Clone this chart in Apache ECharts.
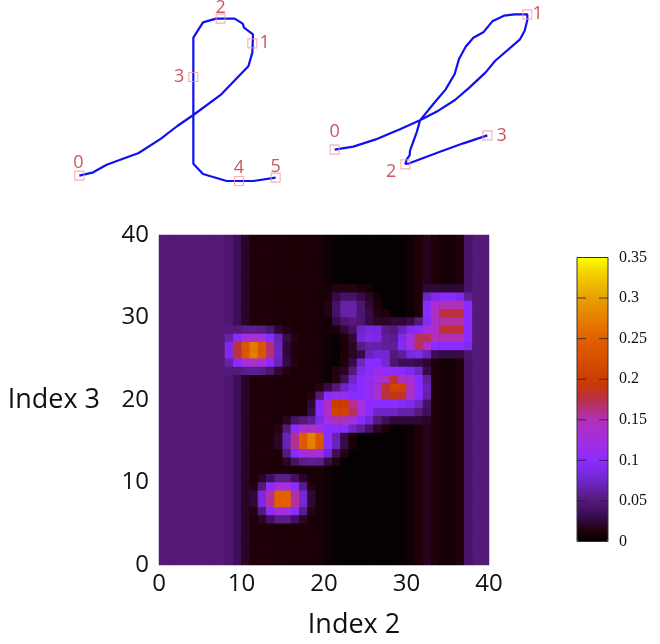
<!DOCTYPE html>
<html>
<head>
<meta charset="utf-8">
<script src="https://cdn.jsdelivr.net/npm/echarts@6/dist/echarts.min.js"></script>
<style>html,body{margin:0;padding:0;background:#fff}#c{width:660px;height:644px}</style>
</head>
<body>
<div id="c"></div>
<script>
// Pen traces
const traceA = [[58,527],[97,518],[140,494],[236,459],[303,416],[352,378],[400,345],[484,283],[565,199],[577,158],[579,103],[552,83],[548,71],[524,56],[468,56],[429,67],[400,113],[400,491],[429,522],[500,543],[580,543],[647,533]];
const traceB = [[44,449],[100,440],[165,419],[240,388],[300,361],[355,332],[405,300],[448,263],[497,217],[525,183],[600,118],[614,92],[622,60],[622,43],[585,43],[552,47],[517,64],[490,97],[460,113],[437,140],[417,177],[404,222],[377,268],[340,312],[300,361],[295,380],[290,397],[270,452],[269,466],[260,478],[256,492],[268,490],[360,455],[430,430],[502,406]];
const keysA = [[58,527],[577,130],[482,56],[400,231],[537,543],[647,533]];
const keysB = [[44,449],[622,43],[256,493],[502,406]];
const keyNamesA = ['0','1','2','3','4','5'];
const keyNamesB = ['0','1','2','3'];

// Heat map: value of each column where nothing else is present
const columnFloor = [.05,.05,.05,.05,.05,.05,.05,.05,.046,.036,.02,.012,.012,.012,.011,.011,.01,.01,.01,.009,.006,.003,.002,.002,.002,.002,.002,.002,.002,.003,.006,.012,.018,.012,.008,.008,.014,.042,.05,.05];
// Cells above the floor: [row from top, first column, values...]
const rowPatches = [
 [6,20,.008,.015,.015,.015,.012,.008],[6,32,.025,.025,.025,.025,.025,.042],
 [7,20,.012,.03,.04,.04,.03,.02,.008],[7,32,.075,.09,.1,.1,.09,.06],
 [8,20,.015,.04,.065,.065,.045,.025,.012],[8,32,.1,.135,.15,.15,.15,.1],
 [9,20,.015,.04,.065,.065,.045,.03,.015,.012],[9,32,.1,.145,.178,.178,.178,.1],
 [10,21,.03,.045,.05,.045,.03,.02,.02,.025,.025,.03,.05,.095,.14,.155,.155,.155,.1],
 [11,8,.05,.05,.055,.058,.055,.045,.025,.015],
 [11,20,.01,.012,.025,.04,.075,.085,.085,.055,.05,.07,.09,.1,.13,.14,.178,.178,.178,.1],
 [12,8,.065,.1,.125,.14,.125,.1,.07,.03,.015],
 [12,22,.012,.025,.08,.09,.085,.06,.055,.09,.12,.17,.17,.15,.15,.15,.15,.1],
 [13,8,.09,.178,.235,.27,.235,.165,.075,.025,.012],
 [13,22,.01,.02,.055,.065,.065,.06,.06,.095,.12,.17,.14,.1,.1,.1,.1,.09],
 [14,8,.09,.178,.235,.27,.235,.165,.075,.025,.012],
 [14,22,.012,.02,.03,.07,.08,.08,.05,.06,.085,.09,.07,.035,.03,.03,.03,.045],
 [15,8,.065,.1,.125,.14,.125,.1,.07,.03,.015],
 [15,22,.012,.03,.075,.1,.1,.08,.045,.035,.035,.03,.022],
 [16,8,.05,.05,.055,.058,.055,.045,.025,.015],
 [16,21,.015,.02,.05,.09,.1,.115,.105,.105,.1,.09,.075,.03],
 [17,21,.015,.035,.075,.1,.11,.125,.145,.18,.145,.13,.1,.06],
 [18,19,.015,.03,.05,.075,.09,.1,.11,.13,.18,.21,.21,.145,.1,.07],
 [19,18,.015,.05,.1,.11,.11,.1,.1,.11,.135,.175,.19,.18,.14,.1,.065],
 [20,18,.025,.1,.14,.2,.2,.16,.125,.1,.1,.1,.1,.095,.09,.075,.04],
 [21,18,.03,.1,.14,.21,.21,.17,.125,.1,.075,.075,.075,.065,.065,.05,.035],
 [22,15,.02,.04,.05,.06,.09,.125,.15,.15,.125,.1,.08,.05,.035,.025,.025,.025,.025,.02],
 [23,14,.015,.05,.1,.135,.14,.13,.1,.1,.1,.075,.06,.04,.02,.012],
 [24,14,.02,.07,.16,.24,.275,.235,.1,.07,.03,.01],
 [25,14,.02,.07,.16,.24,.275,.235,.1,.07,.03,.01],
 [26,15,.05,.1,.125,.14,.125,.08,.035,.015],
 [27,15,.02,.04,.055,.06,.055,.03,.015],
 [29,12,.02,.038,.055,.055,.038,.02],
 [30,11,.015,.05,.1,.125,.125,.1,.055,.015],
 [31,11,.025,.085,.155,.25,.25,.155,.08,.025],
 [32,11,.025,.085,.155,.25,.25,.155,.08,.025],
 [33,11,.015,.05,.1,.125,.125,.1,.055,.015],
 [34,12,.02,.038,.055,.055,.038,.02]
];
// Colour ramp, evenly spaced from 0 to 0.35
const ramp = ['#000000','#200008','#300838','#421060','#551a78','#6220a0','#7025c8','#7e29e8','#8a2cff','#982dee','#a42ee0','#aa2fcc','#b030b8','#b53080','#ba3048','#c23618','#cc3c00','#d24600','#d85000','#dc5800','#e06000','#e37000','#e68000','#e79000','#e8a000','#ecb400','#f0c800','#f7e000','#ffff00'];
const scaleTickValues = [0.05,0.1,0.15,0.2,0.25,0.3];
const xTitle = 'Index 2', yTitle = 'Index 3';

const N = columnFloor.length;
const grid = [];
for (let r = 0; r < N; r++) grid.push(columnFloor.slice());
rowPatches.forEach(p => { for (let i = 2; i < p.length; i++) grid[p[0]][p[1] + i - 2] = p[i]; });
const cells = [];
grid.forEach((row, r) => row.forEach((v, c) => cells.push([c, N - 1 - r, v])));
const cats = columnFloor.map((_, i) => String(i));

const LABEL = 'Open Sans';
// Where each key number sits around its square
const placeA = [['top',[-1,5]],['right',[-2,0]],['top',[0,7]],['left',[0,0]],['top',[0,5]],['top',[0,7]]];
const placeB = [['top',[0,0]],['right',[-4,0]],['left',[0,8]],['right',[0,1]]];
function keyData(keys, names, place) {
  return keys.map((k, i) => ({
    value: k,
    label: { show: true, formatter: names[i], position: place[i][0], distance: 4, offset: place[i][1] }
  }));
}
function hiddenPenAxis(gi, max, inverse) {
  return { type: 'value', gridIndex: gi, min: 0, max, inverse: !!inverse, show: false };
}
const chart = echarts.init(document.getElementById('c'), null, { renderer: 'canvas' });
const penLine = { color: '#1010f0', width: 2.2 };
const keyStyle = { color: 'rgba(0,0,0,0)', borderColor: '#f29c9c', borderWidth: 1.1 };
const keyLabel = { color: '#bd2c36', fontFamily: LABEL, fontSize: 18 };
const tickMark = { type: 'scatter', xAxisIndex: 4, yAxisIndex: 4, symbol: 'rect', symbolSize: [9, 1],
  itemStyle: { color: '#222' }, z: 12, silent: true };
chart.setOption({
  animation: false,
  backgroundColor: '#fff',
  textStyle: { fontFamily: LABEL },
  grid: [
    { left: 159, top: 235, width: 330, height: 330, show: true, borderWidth: 0, backgroundColor: '#2a1038' },
    { left: 60, top: 0, width: 230, height: 195 },
    { left: 320, top: 0, width: 230, height: 195 },
    { left: 577, top: 257.5, width: 31, height: 284, show: true, borderColor: '#333', borderWidth: 1, backgroundColor: 'transparent', z: 10 }
  ],
  xAxis: [
    { type: 'category', gridIndex: 0, data: cats, show: false, position: 'top' },
    { type: 'value', gridIndex: 0, position: 'bottom', min: 0, max: 40, interval: 10,
      axisLine: { show: false }, axisTick: { show: false }, splitLine: { show: false },
      axisLabel: { color: '#111', fontSize: 24, margin: 7, fontFamily: LABEL, hideOverlap: false },
      name: xTitle, nameLocation: 'middle', nameGap: 47,
      nameTextStyle: { color: '#111', fontSize: 27, fontFamily: LABEL, padding: [0, 0, 0, 60] } },
    hiddenPenAxis(1, 690),
    hiddenPenAxis(2, 690),
    { type: 'value', gridIndex: 3, min: 0, max: 31, show: false }
  ],
  yAxis: [
    { type: 'category', gridIndex: 0, data: cats, show: false, position: 'right' },
    { type: 'value', gridIndex: 0, position: 'left', min: 0, max: 40, interval: 10,
      axisLine: { show: false }, axisTick: { show: false }, splitLine: { show: false },
      axisLabel: { color: '#111', fontSize: 24, margin: 10, fontFamily: LABEL },
      name: yTitle, nameLocation: 'middle', nameRotate: 0, nameGap: 59,
      nameTextStyle: { color: '#111', fontSize: 27, fontFamily: LABEL, padding: [0, 0, 16, 0] } },
    hiddenPenAxis(1, 585, true),
    hiddenPenAxis(2, 585, true),
    { type: 'value', gridIndex: 3, position: 'right', min: 0, max: 0.35, interval: 0.05,
      axisLine: { show: false }, splitLine: { show: false }, axisTick: { show: false },
      axisLabel: { color: '#111', fontFamily: 'Liberation Serif', fontSize: 16, margin: 11,
                   formatter: v => String(+v.toFixed(2)), showMinLabel: true, showMaxLabel: true } }
  ],
  visualMap: {
    type: 'continuous', seriesIndex: 0, min: 0, max: 0.35, inRange: { color: ramp },
    left: 577, top: 257.5, itemWidth: 31, itemHeight: 284, text: null, padding: 0,
    calculable: false, hoverLink: false, showLabel: false, z: 4
  },
  series: [
    { type: 'heatmap', xAxisIndex: 0, yAxisIndex: 0, data: cells, progressive: 0,
      itemStyle: { borderWidth: 0, opacity: 1 }, emphasis: { disabled: true } },
    { type: 'line', xAxisIndex: 2, yAxisIndex: 2, data: traceA, showSymbol: false, lineStyle: penLine, z: 3, silent: true },
    { type: 'scatter', xAxisIndex: 2, yAxisIndex: 2, symbol: 'rect', symbolSize: 9, data: keyData(keysA, keyNamesA, placeA), itemStyle: keyStyle, label: keyLabel, z: 4, silent: true },
    { type: 'line', xAxisIndex: 3, yAxisIndex: 3, data: traceB, showSymbol: false, lineStyle: penLine, z: 3, silent: true },
    { type: 'scatter', xAxisIndex: 3, yAxisIndex: 3, symbol: 'rect', symbolSize: 9, data: keyData(keysB, keyNamesB, placeB), itemStyle: keyStyle, label: keyLabel, z: 4, silent: true },
    Object.assign({ data: scaleTickValues.map(v => [4.5, v]) }, tickMark),
    Object.assign({ data: scaleTickValues.map(v => [26.5, v]) }, tickMark)
  ]
});
</script>
</body>
</html>
